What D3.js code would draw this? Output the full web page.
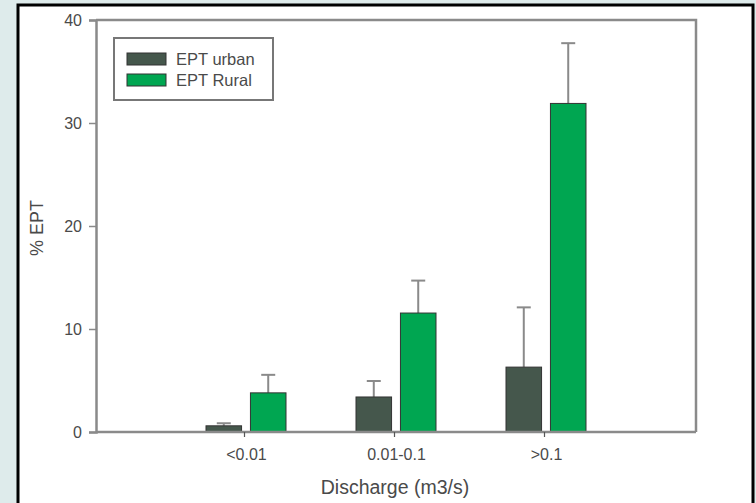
<!DOCTYPE html>
<html><head><meta charset="utf-8">
<script src="https://cdn.jsdelivr.net/npm/d3@7"></script>
<style>
html,body{margin:0;padding:0;background:#deebeb;}
svg{display:block;}
text{font-family:"Liberation Sans",Arial,sans-serif;fill:#4a4a4a;}
</style></head>
<body>
<svg id="chart" width="756" height="503"></svg>
<script>
const categories = ["<0.01", "0.01-0.1", ">0.1"];
const series = ["EPT urban", "EPT Rural"];
const urbanValues = [0.6, 3.4, 6.3];
const urbanErrors = [0.25, 1.55, 5.8];
const ruralValues = [3.8, 11.55, 31.9];
const ruralErrors = [1.75, 3.15, 5.85];
const yTicks = [0, 10, 20, 30, 40];
const colors = ["#45574c", "#00a651"];

const svg = d3.select("#chart");
// outer frame
svg.append("rect").attr("x", 18).attr("y", 5).attr("width", 735).attr("height", 510)
  .attr("fill", "#fff").attr("stroke", "#000").attr("stroke-width", 3);

const mLeft = 96, mRight = 696, mTop = 20, mBottom = 432;
const y = d3.scaleLinear().domain([0, 40]).range([mBottom, mTop]);
const x = d3.scalePoint().domain(categories).range([mLeft, mRight]).padding(1);
const inner = d3.scaleBand().domain(series).range([-40, 40]).paddingInner(0.2);

const data = [];
categories.forEach((c, i) => {
  data.push({cat: c, s: series[0], v: urbanValues[i], e: urbanErrors[i], col: colors[0]});
  data.push({cat: c, s: series[1], v: ruralValues[i], e: ruralErrors[i], col: colors[1]});
});

// error bars
const eg = svg.append("g").attr("stroke", "#8a8a8a").attr("stroke-width", 2);
data.forEach(d => {
  const cx = x(d.cat) + inner(d.s) + inner.bandwidth() / 2;
  eg.append("line").attr("x1", cx).attr("x2", cx).attr("y1", y(d.v)).attr("y2", y(d.v + d.e));
  eg.append("line").attr("x1", cx - 7).attr("x2", cx + 7).attr("y1", y(d.v + d.e)).attr("y2", y(d.v + d.e));
});

// bars
svg.append("g").selectAll("rect").data(data).join("rect")
  .attr("x", d => x(d.cat) + inner(d.s))
  .attr("width", inner.bandwidth())
  .attr("y", d => y(d.v))
  .attr("height", d => y(0) - y(d.v))
  .attr("fill", d => d.col)
  .attr("stroke", "#333").attr("stroke-width", 1);

// frame top & right
svg.append("path").attr("d", `M${mLeft},${mTop}H${mRight}V${mBottom}`)
  .attr("fill", "none").attr("stroke", "#8a8a8a").attr("stroke-width", 2.5);

// y axis
const yAxis = svg.append("g").attr("transform", `translate(${mLeft},0)`)
  .call(d3.axisLeft(y).tickValues(yTicks).tickSize(7).tickPadding(7).tickFormat(d3.format("d")));
yAxis.select(".domain").attr("stroke", "#8a8a8a").attr("stroke-width", 2.5);
yAxis.selectAll(".tick line").attr("stroke", "#8a8a8a").attr("stroke-width", 1.5);
yAxis.selectAll("text").attr("font-size", 16).style("fill", "#4a4a4a").attr("font-family", "Liberation Sans, Arial, sans-serif");

// x axis
const xAxis = svg.append("g").attr("transform", `translate(0,${mBottom})`)
  .call(d3.axisBottom(x).tickSize(5).tickPadding(12).tickSizeOuter(0));
xAxis.select(".domain").attr("stroke", "#8a8a8a").attr("stroke-width", 2.5).attr("d", `M${mLeft},0H${mRight}`);
xAxis.selectAll(".tick line").attr("stroke", "#555").attr("stroke-width", 1.2)
  .attr("transform", "translate(-2,0)");
xAxis.selectAll("text").attr("font-size", 16).style("fill", "#4a4a4a").attr("font-family", "Liberation Sans, Arial, sans-serif");

// axis titles
svg.append("text").attr("x", 395).attr("y", 494).attr("text-anchor", "middle")
  .attr("font-size", 19.5).text("Discharge (m3/s)");
svg.append("text").attr("transform", "translate(43,228) rotate(-90)").attr("text-anchor", "middle")
  .attr("font-size", 18).text("% EPT");

// legend
const lg = svg.append("g");
lg.append("rect").attr("x", 114).attr("y", 38).attr("width", 159).attr("height", 62)
  .attr("fill", "#fff").attr("stroke", "#777").attr("stroke-width", 2);
series.forEach((s, i) => {
  lg.append("rect").attr("x", 127).attr("y", 53 + i * 21).attr("width", 39).attr("height", 12)
    .attr("fill", colors[i]).attr("stroke", "#333").attr("stroke-width", 1);
  lg.append("text").attr("x", 176).attr("y", 65 + i * 21).attr("font-size", 16.5).text(s);
});
</script>
</body></html>
